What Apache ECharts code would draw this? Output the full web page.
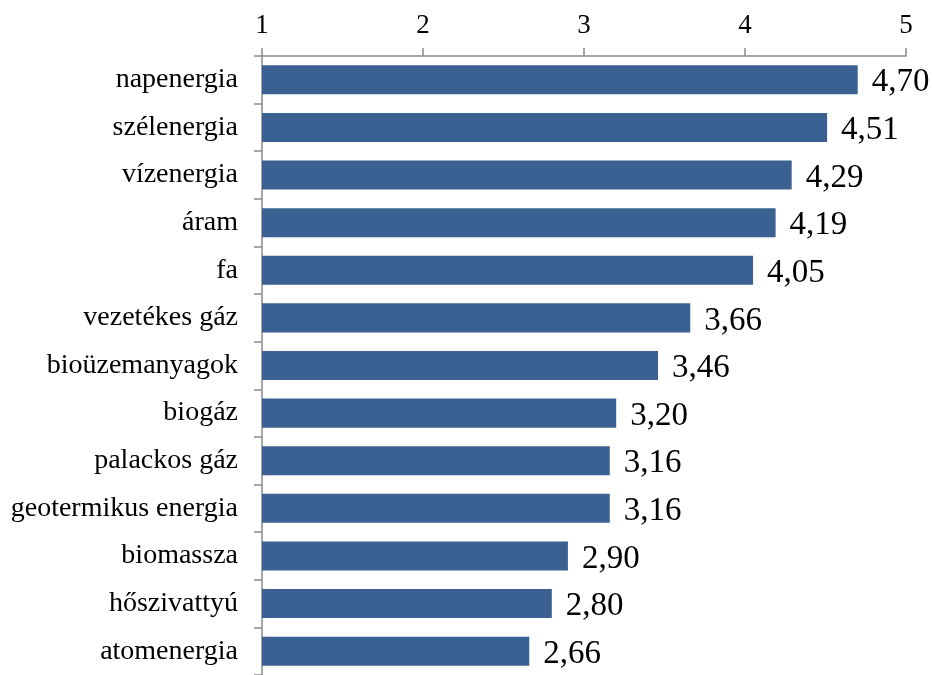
<!DOCTYPE html>
<html>
<head>
<meta charset="utf-8">
<script src="https://cdn.jsdelivr.net/npm/echarts@6/dist/echarts.min.js"></script>
<style>
html,body{margin:0;padding:0;background:#fff;}
#chart{width:933px;height:675px;}
</style>
</head>
<body>
<div id="chart"></div>
<script>
const categories = ["napenergia","szélenergia","vízenergia","áram","fa","vezetékes gáz","bioüzemanyagok","biogáz","palackos gáz","geotermikus energia","biomassza","hőszivattyú","atomenergia"];
const values = [4.70,4.51,4.29,4.19,4.05,3.66,3.46,3.20,3.16,3.16,2.90,2.80,2.66];
const axisTicks = [1,2,3,4,5];

const FONT = '"Liberation Serif","Times New Roman",serif';
const chart = echarts.init(document.getElementById('chart'));
chart.setOption({
  animation: false,
  backgroundColor: '#ffffff',
  grid: { left: 262, right: 27, top: 56, bottom: -5, containLabel: false },
  xAxis: {
    type: 'value',
    position: 'top',
    min: axisTicks[0],
    max: axisTicks[axisTicks.length - 1],
    interval: 1,
    axisLine: { show: true, lineStyle: { color: '#8a8a8a', width: 1.5 } },
    axisTick: { show: true, length: 8, lineStyle: { color: '#8a8a8a', width: 1.5 } },
    splitLine: { show: false },
    axisLabel: { fontFamily: FONT, fontSize: 27, color: '#000', margin: 17 }
  },
  yAxis: {
    type: 'category',
    data: categories,
    inverse: true,
    axisLine: { show: true, lineStyle: { color: '#8a8a8a', width: 1.5 } },
    axisTick: { show: true, length: 8, alignWithLabel: false, lineStyle: { color: '#8a8a8a', width: 1.5 } },
    axisLabel: { fontFamily: FONT, fontSize: 28, color: '#000', margin: 24 }
  },
  series: [{
    type: 'bar',
    data: values,
    barCategoryGap: '39%',
    clip: true,
    itemStyle: { color: '#3a6191' },
    label: {
      show: true,
      position: 'right',
      distance: 14,
      offset: [0, 3],
      fontFamily: FONT,
      fontSize: 33,
      color: '#000',
      formatter: p => p.value.toFixed(2).replace('.', ',')
    }
  }]
});
</script>
</body>
</html>
